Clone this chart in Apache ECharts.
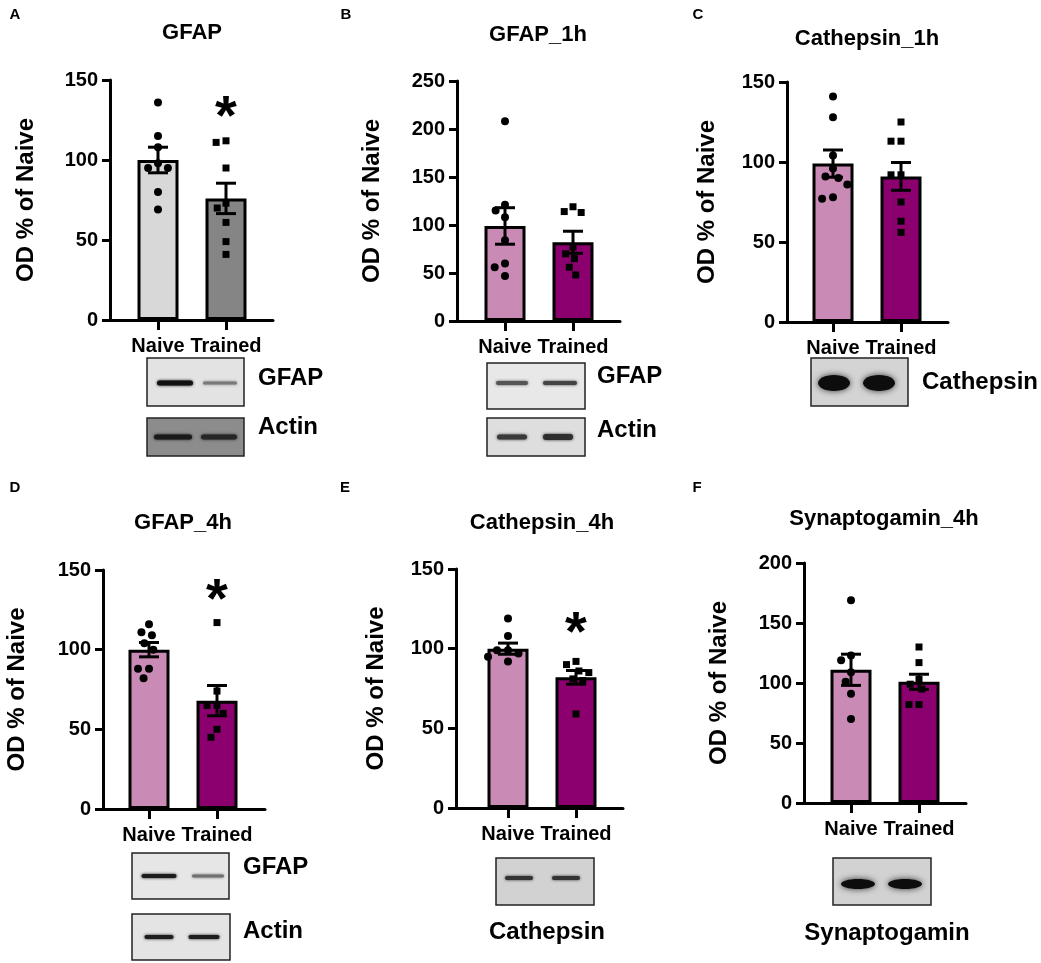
<!DOCTYPE html>
<html>
<head>
<meta charset="utf-8">
<script src="https://cdn.jsdelivr.net/npm/echarts@6.0.0/dist/echarts.min.js"></script>
<style>
html, body { margin: 0; padding: 0; background: #fff; }
#chart { width: 1041px; height: 963px; }
</style>
</head>
<body>
<div id="chart"></div>
<script>
var categories = ['Naive', 'Trained'];
var panelTitles = ['GFAP', 'GFAP_1h', 'Cathepsin_1h', 'GFAP_4h', 'Cathepsin_4h', 'Synaptogamin_4h'];
var panelLetters = ['A', 'B', 'C', 'D', 'E', 'F'];
var yMax = [150, 250, 150, 150, 150, 200];
var meanNaive = [100, 99, 99, 100, 100, 111];
var meanTrained = [76, 82, 91, 68, 82, 101];
var semNaive = [8, 19, 8.5, 4.5, 3.5, 13];
var semTrained = [9.5, 11.5, 8.7, 9.5, 4.3, 6.3];
var pointsNaive = [
    [136, 115, 108, 98, 95, 95, 80, 69],
    [208, 121, 115, 108, 84, 60, 56, 47],
    [141, 128, 104, 96, 91, 90, 86, 78, 77],
    [116, 111, 109, 104, 100, 88, 88, 82],
    [119, 108, 99, 99, 97, 95, 92],
    [169, 123, 119, 109, 101, 91, 70]
];
var pointsTrained = [
    [112, 111, 95, 73, 70, 61, 49, 41],
    [119, 114, 113, 77, 70, 65, 56, 48],
    [125, 113, 113, 92, 92, 75, 63, 56],
    [117, 74, 65, 65, 60, 50, 45],
    [92, 90, 86, 85, 81, 80, 59],
    [130, 117, 103, 99, 95, 82, 82]
];
var starTrained = [133, null, null, 137, 116, null];
var blotLabels = [['GFAP', 'Actin'], ['GFAP', 'Actin'], ['Cathepsin'], ['GFAP', 'Actin'], ['Cathepsin'], ['Synaptogamin']];

// layout of each panel, in px
var panels = [
    {ax: 110, top: 80, bot: 320, right: 273, c0: 158, gap: 72, tx: 192, ty: 33, lx: 15, ly: 15},
    {ax: 457, top: 81, bot: 321, right: 620, c0: 505, gap: 73, tx: 538, ty: 35, lx: 346, ly: 15},
    {ax: 787, top: 82, bot: 322, right: 948, c0: 833, gap: 68, tx: 867, ty: 39, lx: 698, ly: 15},
    {ax: 103, top: 570, bot: 809, right: 265, c0: 149, gap: 74, tx: 183, ty: 523, lx: 15, ly: 488},
    {ax: 456, top: 569, bot: 808, right: 623, c0: 508, gap: 68, tx: 542, ty: 523, lx: 345, ly: 488},
    {ax: 804, top: 563, bot: 803, right: 966, c0: 851, gap: 73, tx: 884, ty: 519, lx: 697, ly: 488}
];
var grayColors = ['#d8d8d8', '#858585'],
    pinkColors = ['#c98bb5', '#8b006e'];

// western blot images, drawn as shapes
var blots = [
    {x: 147, y: 358, w: 97, h: 48, bg: '#e3e3e3', by: 383, bands: [[175, 36, 5, '#111'], [220, 34, 3, '#7a7a7a']], label: 0, tx: 258, ty: 378, align: 'left', p: 0},
    {x: 147, y: 418, w: 97, h: 38, bg: '#8c8c8c', by: 437, bands: [[173, 38, 5, '#1a1a1a'], [219, 36, 5, '#262626']], label: 1, tx: 258, ty: 427, align: 'left', p: 0},
    {x: 487, y: 363, w: 98, h: 46, bg: '#e8e8e8', by: 383, bands: [[512, 32, 4, '#555'], [560, 34, 4, '#444']], label: 0, tx: 597, ty: 376, align: 'left', p: 1},
    {x: 487, y: 418, w: 98, h: 38, bg: '#dedede', by: 437, bands: [[512, 30, 5, '#3a3a3a'], [558, 30, 6, '#2e2e2e']], label: 1, tx: 597, ty: 430, align: 'left', p: 1},
    {x: 811, y: 358, w: 97, h: 48, bg: '#d4d4d4', by: 383, blobs: [[834, 16, 8], [879, 16, 8]], label: 0, tx: 922, ty: 382, align: 'left', p: 2},
    {x: 132, y: 853, w: 97, h: 46, bg: '#e6e6e6', by: 876, bands: [[159, 35, 4, '#1c1c1c'], [208, 32, 3, '#707070']], label: 0, tx: 243, ty: 867, align: 'left', p: 3},
    {x: 132, y: 914, w: 98, h: 46, bg: '#e4e4e4', by: 937, bands: [[159, 29, 4, '#1e1e1e'], [204, 31, 4, '#1e1e1e']], label: 1, tx: 243, ty: 931, align: 'left', p: 3},
    {x: 496, y: 858, w: 98, h: 47, bg: '#d2d2d2', by: 878, bands: [[519, 28, 4, '#333'], [566, 28, 4, '#333']], label: 0, tx: 547, ty: 932, align: 'center', p: 4},
    {x: 833, y: 858, w: 98, h: 47, bg: '#d2d2d2', by: 884, blobs: [[858, 17, 5], [905, 17, 5]], label: 0, tx: 887, ty: 933, align: 'center', p: 5}
];

var font = 'Liberation Sans, Arial, sans-serif';
var chart = echarts.init(document.getElementById('chart'));

function renderErr(params, api) {
    var x = api.value(0), m = api.value(1), s = api.value(2);
    var hi = api.coord([x, m + s]), lo = api.coord([x, m - s]);
    var st = {stroke: '#000', lineWidth: 3};
    return {
        type: 'group',
        children: [
            {type: 'line', shape: {x1: hi[0], y1: hi[1], x2: lo[0], y2: lo[1]}, style: st},
            {type: 'line', shape: {x1: hi[0] - 10, y1: hi[1], x2: hi[0] + 10, y2: hi[1]}, style: st},
            {type: 'line', shape: {x1: lo[0] - 10, y1: lo[1], x2: lo[0] + 10, y2: lo[1]}, style: st}
        ]
    };
}

function renderStar(params, api) {
    var pt = api.coord([api.value(0), api.value(1)]);
    return {
        type: 'text', x: pt[0], y: pt[1] + 11,
        style: {text: '*', fontSize: 56, fontWeight: 'bold', fontFamily: font, fill: '#000', align: 'center', verticalAlign: 'middle'}
    };
}

var grids = [], xAxes = [], yAxes = [], series = [], graphics = [];

panels.forEach(function (p, i) {
    var h = p.bot - p.top,
        colors = i == 0 ? grayColors : pinkColors,
        outer = 2 * i,
        inner = 2 * i + 1;

    grids.push({left: p.ax, top: p.top, width: p.right - p.ax, height: h});
    grids.push({left: p.c0 - 34, top: p.top, width: 136, height: h});

    xAxes.push({
        gridIndex: outer, type: 'value', min: 0, max: 1,
        axisLine: {show: true, lineStyle: {color: '#000', width: 3}},
        axisTick: {show: false}, axisLabel: {show: false}, splitLine: {show: false}
    });
    yAxes.push({
        gridIndex: outer, type: 'value', min: 0, max: yMax[i], interval: 50,
        name: 'OD % of Naive', nameLocation: 'middle', nameGap: p.gap, nameRotate: 90,
        nameTextStyle: {fontFamily: font, fontWeight: 'bold', fontSize: 24, color: '#000'},
        axisLine: {show: true, lineStyle: {color: '#000', width: 3}},
        axisTick: {show: true, length: 8, lineStyle: {color: '#000', width: 3}},
        axisLabel: {margin: 12, fontFamily: font, fontWeight: 'bold', fontSize: 20, color: '#000'},
        splitLine: {show: false}
    });

    xAxes.push({
        gridIndex: inner, type: 'category', data: categories,
        jitter: 42, jitterOverlap: false, jitterMargin: 3,
        axisLine: {show: false},
        axisTick: {show: true, alignWithLabel: true, length: 10, lineStyle: {color: '#000', width: 3}},
        axisLabel: {interval: 0, margin: 16, fontFamily: font, fontWeight: 'bold', fontSize: 20, color: '#000'}
    });
    yAxes.push({gridIndex: inner, type: 'value', min: 0, max: yMax[i], show: false});

    series.push({
        type: 'bar', xAxisIndex: inner, yAxisIndex: inner, barWidth: 41, z: 2,
        itemStyle: {borderColor: '#000', borderWidth: 3},
        data: [
            {value: meanNaive[i], itemStyle: {color: colors[0]}},
            {value: meanTrained[i], itemStyle: {color: colors[1]}}
        ]
    });
    series.push({
        type: 'scatter', xAxisIndex: inner, yAxisIndex: inner, z: 3,
        symbol: 'circle', symbolSize: 8,
        itemStyle: {color: '#000', opacity: 1},
        data: pointsNaive[i].map(function (v) { return [0, v]; })
    });
    series.push({
        type: 'scatter', xAxisIndex: inner, yAxisIndex: inner, z: 3,
        symbol: 'rect', symbolSize: 7,
        itemStyle: {color: '#000', opacity: 1},
        data: pointsTrained[i].map(function (v) { return [1, v]; })
    });
    series.push({
        type: 'custom', xAxisIndex: inner, yAxisIndex: inner, z: 4,
        renderItem: renderErr,
        data: [[0, meanNaive[i], semNaive[i]], [1, meanTrained[i], semTrained[i]]]
    });
    if (starTrained[i] != null) {
        series.push({
            type: 'custom', xAxisIndex: inner, yAxisIndex: inner, z: 5,
            renderItem: renderStar,
            data: [[1, starTrained[i]]]
        });
    }

    graphics.push({
        type: 'text', x: p.tx, y: p.ty,
        style: {text: panelTitles[i], fontFamily: font, fontWeight: 'bold', fontSize: 22, fill: '#000', align: 'center', verticalAlign: 'middle'}
    });
    graphics.push({
        type: 'text', x: p.lx, y: p.ly,
        style: {text: panelLetters[i], fontFamily: font, fontWeight: 'bold', fontSize: 15, fill: '#000', align: 'center', verticalAlign: 'middle'}
    });
});

blots.forEach(function (b) {
    graphics.push({
        type: 'rect', shape: {x: b.x, y: b.y, width: b.w, height: b.h},
        style: {fill: b.bg, stroke: '#222', lineWidth: 1.5}
    });
    (b.bands || []).forEach(function (d) {
        graphics.push({
            type: 'rect', shape: {x: d[0] - d[1] / 2, y: b.by - d[2] / 2, width: d[1], height: d[2], r: d[2] / 2},
            style: {fill: d[3], shadowBlur: 3, shadowColor: d[3]}
        });
    });
    (b.blobs || []).forEach(function (d) {
        graphics.push({
            type: 'ellipse', shape: {cx: d[0], cy: b.by, rx: d[1], ry: d[2]},
            style: {fill: '#0d0d0d', shadowBlur: 6, shadowColor: '#333'}
        });
    });
    graphics.push({
        type: 'text', x: b.tx, y: b.ty,
        style: {text: blotLabels[b.p][b.label], fontFamily: font, fontWeight: 'bold', fontSize: 24, fill: '#000', align: b.align, verticalAlign: 'middle'}
    });
});

chart.setOption({
    animation: false,
    backgroundColor: '#fff',
    grid: grids,
    xAxis: xAxes,
    yAxis: yAxes,
    series: series,
    graphic: graphics
});
</script>
</body>
</html>
